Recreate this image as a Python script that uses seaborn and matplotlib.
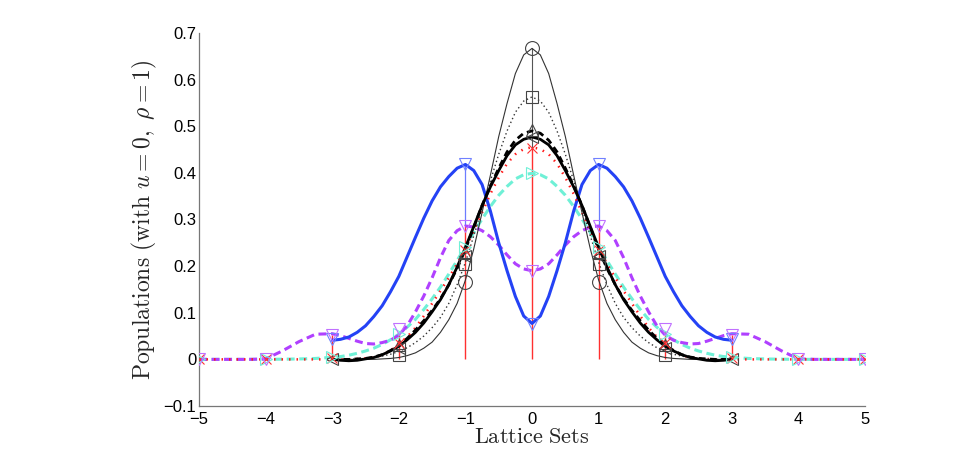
import numpy as np
import pandas as pd
import matplotlib
matplotlib.use("Agg")
import matplotlib.pyplot as plt
import seaborn as sns

sns.set_theme(style="white")
plt.rcParams['font.family'] = ['Liberation Sans', 'DejaVu Sans']
plt.rcParams['mathtext.fontset'] = 'cm'

# lattice points
lattice = [-5, -4, -3, -2, -1, 0, 1, 2, 3, 4, 5]

# smooth curves, -3..3 in steps of 1/8
x_short = [-3, -2.875, -2.75, -2.625, -2.5, -2.375, -2.25, -2.125, -2, -1.875, -1.75, -1.625,
           -1.5, -1.375, -1.25, -1.125, -1, -0.875, -0.75, -0.625, -0.5, -0.375, -0.25, -0.125, 0,
           0.125, 0.25, 0.375, 0.5, 0.625, 0.75, 0.875, 1, 1.125, 1.25, 1.375, 1.5, 1.625, 1.75,
           1.875, 2, 2.125, 2.25, 2.375, 2.5, 2.625, 2.75, 2.875, 3]
# curves running over the whole lattice: quarter steps outside -3..3
x_long = [-5, -4.75, -4.5, -4.25, -4, -3.75, -3.5, -3.25] + x_short + [3.25, 3.5, 3.75, 4, 4.25, 4.5, 4.75, 5]

thin_curve = [0, 0, 0, 0, 0, 0, 0.001, 0.002, 0.004, 0.008, 0.014, 0.024, 0.037, 0.058, 0.085,
              0.12, 0.17, 0.237, 0.315, 0.395, 0.478, 0.549, 0.613, 0.653, 0.667,
              0.653, 0.613, 0.549, 0.478, 0.395, 0.315, 0.237, 0.17, 0.12, 0.085, 0.058, 0.037,
              0.024, 0.014, 0.008, 0.004, 0.002, 0.001, 0, 0, 0, 0, 0, 0]
dotted_curve = [0, 0, 0.0005, 0.001, 0.002, 0.004, 0.007, 0.011, 0.017, 0.025, 0.036, 0.05, 0.068,
                0.09, 0.12, 0.16, 0.208, 0.265, 0.325, 0.383, 0.44, 0.49, 0.53, 0.554, 0.563,
                0.554, 0.53, 0.49, 0.44, 0.383, 0.325, 0.265, 0.208, 0.16, 0.12, 0.09, 0.068, 0.05,
                0.036, 0.025, 0.017, 0.011, 0.007, 0.004, 0.002, 0.001, 0.0005, 0, 0]
dashed_curve = [0, 0, 0, 0.001, 0.002, 0.005, 0.01, 0.019, 0.03, 0.045, 0.063, 0.083, 0.105,
                0.13, 0.16, 0.195, 0.236, 0.283, 0.33, 0.372, 0.41, 0.445, 0.47, 0.485, 0.49,
                0.485, 0.47, 0.445, 0.41, 0.372, 0.33, 0.283, 0.236, 0.195, 0.16, 0.13, 0.105, 0.083,
                0.063, 0.045, 0.03, 0.019, 0.01, 0.005, 0.002, 0.001, 0, 0, 0]
thick_curve = [0, -0.002, -0.003, -0.002, 0.001, 0.004, 0.01, 0.018, 0.028, 0.042, 0.058, 0.078,
               0.102, 0.128, 0.16, 0.198, 0.24, 0.285, 0.33, 0.37, 0.405, 0.437, 0.46, 0.472, 0.477,
               0.472, 0.46, 0.437, 0.405, 0.37, 0.33, 0.285, 0.24, 0.198, 0.16, 0.128, 0.102, 0.078,
               0.058, 0.042, 0.028, 0.018, 0.01, 0.004, 0.001, -0.002, -0.003, -0.002, 0]
blue_curve = [0.041, 0.043, 0.048, 0.058, 0.072, 0.092, 0.115, 0.145, 0.178, 0.22, 0.262, 0.303,
              0.34, 0.37, 0.392, 0.41, 0.418, 0.405, 0.375, 0.318, 0.25, 0.19, 0.135, 0.093, 0.077,
              0.093, 0.135, 0.19, 0.25, 0.318, 0.375, 0.405, 0.418, 0.41, 0.392, 0.37, 0.34, 0.303,
              0.262, 0.22, 0.178, 0.145, 0.115, 0.092, 0.072, 0.058, 0.048, 0.043, 0.041]
red_curve = [0, 0, 0, 0, 0, 0, 0, 0,
             0, 0, 0, 0.001, 0.002, 0.004, 0.009, 0.019, 0.032, 0.048, 0.068, 0.093, 0.12, 0.147,
             0.175, 0.205, 0.238, 0.276, 0.315, 0.355, 0.39, 0.42, 0.44, 0.451, 0.455,
             0.451, 0.44, 0.42, 0.39, 0.355, 0.315, 0.276, 0.238, 0.205, 0.175, 0.147, 0.12, 0.093,
             0.068, 0.048, 0.032, 0.019, 0.009, 0.004, 0.002, 0.001, 0, 0, 0,
             0, 0, 0, 0, 0, 0, 0, 0]
cyan_curve = [0, 0, 0, 0, 0.0001, 0.0004, 0.0009, 0.002,
              0.0044, 0.006, 0.009, 0.013, 0.018, 0.024, 0.032, 0.042, 0.054, 0.069, 0.086, 0.107,
              0.13, 0.155, 0.183, 0.212, 0.242, 0.272, 0.301, 0.328, 0.352, 0.371, 0.387, 0.396, 0.399,
              0.396, 0.387, 0.371, 0.352, 0.328, 0.301, 0.272, 0.242, 0.212, 0.183, 0.155, 0.13, 0.107,
              0.086, 0.069, 0.054, 0.042, 0.032, 0.024, 0.018, 0.013, 0.009, 0.006, 0.0044,
              0.002, 0.0009, 0.0004, 0.0001, 0, 0, 0, 0]
magenta_curve = [0, 0, 0, 0, 0.001, 0.018, 0.038, 0.054,
                 0.055, 0.051, 0.045, 0.039, 0.034, 0.033, 0.036, 0.041, 0.052, 0.072, 0.102, 0.136,
                 0.175, 0.218, 0.255, 0.276, 0.286, 0.284, 0.276, 0.263, 0.245, 0.224, 0.205, 0.194, 0.19,
                 0.194, 0.205, 0.224, 0.245, 0.263, 0.276, 0.284, 0.286, 0.276, 0.255, 0.218, 0.175, 0.136,
                 0.102, 0.072, 0.052, 0.041, 0.036, 0.033, 0.034, 0.039, 0.045, 0.051, 0.055,
                 0.054, 0.038, 0.018, 0.001, 0, 0, 0, 0]

# values at the lattice points (markers)
circle_x = [-1, 0, 1]
circle_y = [0.167, 0.667, 0.167]
square_x = [-2, -1, 0, 1, 2]
square_y = [0.01, 0.205, 0.563, 0.205, 0.01]
tri_up_x = [-2, -1, 0, 1, 2]
tri_up_y = [0.03, 0.228, 0.492, 0.228, 0.03]
tri_left_x = [-3, -2, -1, 0, 1, 2, 3]
tri_left_y = [0.0, 0.025, 0.222, 0.478, 0.222, 0.025, 0.0]
cross_y = [0, 0, 0.002, 0.035, 0.235, 0.453, 0.235, 0.035, 0.002, 0, 0]
tri_right_y = [0, 0.0001, 0.0044, 0.054, 0.242, 0.399, 0.242, 0.054, 0.0044, 0.0001, 0]
blue_tri_x = [-3, -1, 0, 1, 3]
blue_tri_y = [0.044, 0.418, 0.075, 0.418, 0.044]
magenta_tri_y = [0, 0, 0.052, 0.066, 0.285, 0.19, 0.285, 0.066, 0.052, 0, 0]

# stems: red from zero, blue and black only show above the red ones
red_stem_y = [0, 0, 0.052, 0.06, 0.285, 0.453, 0.285, 0.06, 0.052, 0, 0]
blue_stem_x = [-1, 1]
blue_stem_lo = [0.285, 0.285]
blue_stem_hi = [0.418, 0.418]
black_stem_x = [0]
black_stem_lo = [0.453]
black_stem_hi = [0.667]

fig = plt.figure(figsize=(9.55, 4.57), dpi=100)
ax = fig.add_axes([0.2084, 0.1116, 0.6974, 0.8162])

ax.vlines(black_stem_x, black_stem_lo, black_stem_hi, color='#555555', lw=0.8, zorder=1)
ax.vlines(blue_stem_x, blue_stem_lo, blue_stem_hi, color='#6c7cff', lw=0.9, zorder=1)
ax.vlines(lattice, 0, red_stem_y, color='#ff3030', lw=1.0, zorder=1.5)

# curves
sns.lineplot(x=x_long, y=cyan_curve, ax=ax, color='#6ff0d6', lw=2.2,
             linestyle=(0, (2.6, 1.5)), zorder=2)
sns.lineplot(x=x_long, y=magenta_curve, ax=ax, color='#b040ff', lw=2.2,
             linestyle=(0, (2.6, 1.5)), zorder=2)
sns.lineplot(x=x_short, y=blue_curve, ax=ax, color='#2442f5', lw=2.2, zorder=2)
sns.lineplot(x=x_long, y=red_curve, ax=ax, color='#ff1a1a', lw=1.8,
             linestyle=(0, (0.6, 2.4)), zorder=2.5)
sns.lineplot(x=x_short, y=thin_curve, ax=ax, color='#333333', lw=0.8, zorder=2.5)
sns.lineplot(x=x_short, y=dotted_curve, ax=ax, color='#333333', lw=1.0,
             linestyle=(0, (1, 2)), zorder=2.5)
sns.lineplot(x=x_short, y=dashed_curve, ax=ax, color='black', lw=2.0,
             linestyle=(0, (2.4, 1.6)), zorder=3)
sns.lineplot(x=x_short, y=thick_curve, ax=ax, color='black', lw=2.0, zorder=3)

# markers
mk = dict(ls='none', mfc='none', mew=0.8, zorder=4)
ax.plot(circle_x, circle_y, 'o', mec='#444444', ms=10, **mk)
ax.plot(square_x, square_y, 's', mec='#444444', ms=8.5, **mk)
ax.plot(tri_up_x, tri_up_y, '^', mec='#444444', ms=9, **mk)
ax.plot(tri_left_x, tri_left_y, '<', mec='#444444', ms=9, **mk)
ax.plot(lattice, cross_y, 'x', mec='#ff3030', ms=7, **mk)
ax.plot(lattice, tri_right_y, '>', mec='#70f0d8', ms=9, **mk)
ax.plot(blue_tri_x, blue_tri_y, 'v', mec='#7080ff', ms=9, **mk)
ax.plot(lattice, magenta_tri_y, 'v', mec='#c070ff', ms=9, **mk)

ax.set_xlim(-5, 5)
ax.set_ylim(-0.1, 0.7)
xticks = [-5, -4, -3, -2, -1, 0, 1, 2, 3, 4, 5]
yticks = [-0.1, 0, 0.1, 0.2, 0.3, 0.4, 0.5, 0.6, 0.7]
ax.set_xticks(xticks)
ax.set_xticklabels([str(t).replace('-', '\u2212') for t in xticks])
ax.set_yticks(yticks)
ax.set_yticklabels([('0' if t == 0 else f'{t:.1f}').replace('-', '\u2212') for t in yticks])

for side in ['top', 'right']:
    ax.spines[side].set_visible(False)
for side in ['left', 'bottom']:
    ax.spines[side].set_color('#777777')
    ax.spines[side].set_linewidth(0.9)
ax.tick_params(axis='both', direction='in', length=4.5, width=0.8, color='#777777',
               labelsize=12, labelcolor='black')
ax.tick_params(axis='x', pad=4)
ax.tick_params(axis='y', pad=2)

ax.set_xlabel(r'$\mathrm{Lattice\ Sets}$', fontsize=16, labelpad=0)
ax.set_ylabel(r'$\mathrm{Populations\ (with\ }u=0,\ \rho=1\mathrm{)}$', fontsize=17, labelpad=3)

fig.savefig("out.png", dpi=100, facecolor='white')
